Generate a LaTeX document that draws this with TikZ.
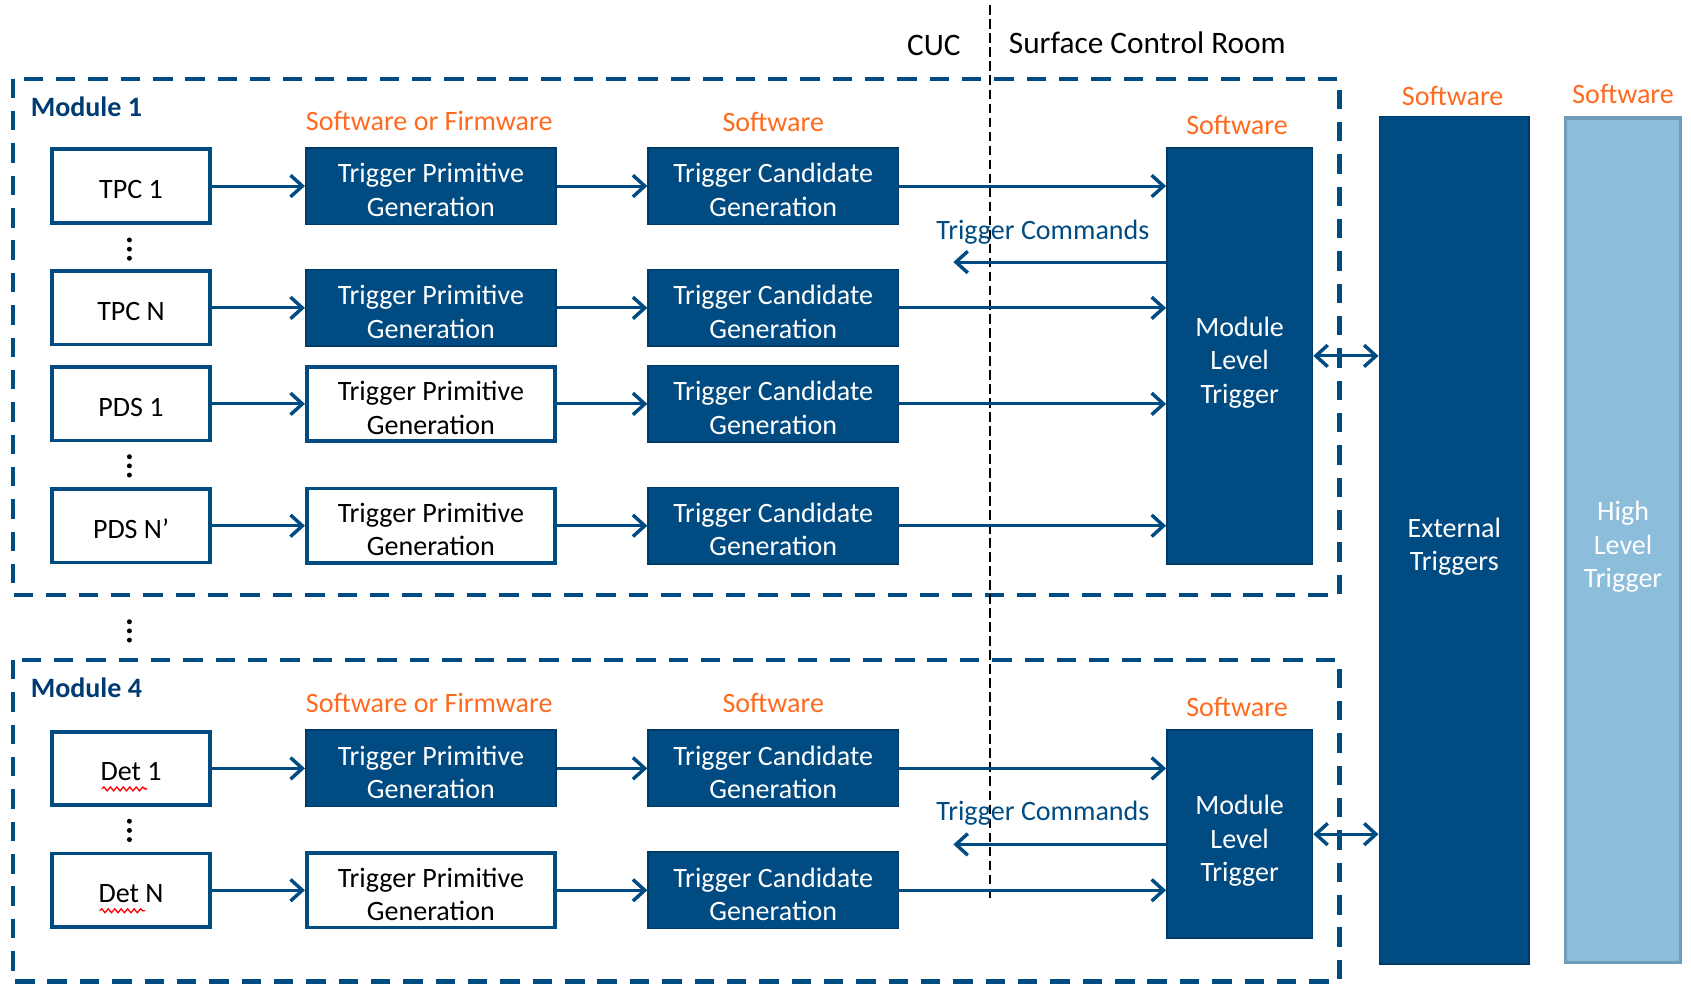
\documentclass[tikz,border=0pt]{standalone}
\usepackage{fontspec}
\setmainfont{Carlito}
\usepackage{tikz}
\usetikzlibrary{arrows.meta, decorations.pathmorphing}
\tikzset{>={Straight Barb[length=11pt, width=20pt, line width=3.2pt]}}
\definecolor{dunblue}{RGB}{0, 75, 130}
\definecolor{dunedge}{RGB}{0, 58, 104}
\definecolor{dunlabel}{RGB}{0, 60, 113}
\definecolor{swOrange}{RGB}{255, 106, 30}
\definecolor{hltblue}{RGB}{140, 189, 218}
\definecolor{hltedge}{RGB}{112, 155, 185}

\begin{document}
\begin{tikzpicture}[x=1pt, y=-1pt, font=\fontsize{26}{31}\selectfont,
  detbox/.style={draw=dunblue, line width=3.5pt, fill=white, minimum width=146pt, minimum height=68pt, text height=23pt, text depth=0pt},
  darkbox/.style={draw=dunedge, line width=1.5pt, fill=dunblue, text=white, align=center, minimum width=232pt, minimum height=71pt, text height=56pt, text depth=0pt},
  lightbox/.style={draw=dunblue, line width=3.5pt, fill=white, align=center, minimum width=230pt, minimum height=69pt, text height=56pt, text depth=0pt},
  threeline/.style={text height=88pt, text depth=0pt},
  flow/.style={->, draw=dunblue, line width=2.8pt},
  modframe/.style={draw=dunblue, line width=4pt, dash pattern=on 18pt off 12pt},
  sepline/.style={draw=black, line width=1.5pt, dash pattern=on 9pt off 4pt},
  swlabel/.style={text=swOrange},
  roomlabel/.style={font=\fontsize{29}{34}\selectfont},
  modlabel/.style={text=dunlabel, font=\fontsize{26}{31}\selectfont\bfseries, anchor=west},
  spellmark/.style={draw=red, line width=1.2pt, decorate, decoration={snake, amplitude=1.8pt, segment length=6pt}}]
\useasboundingbox (0,0) rectangle (1568,913);

% module frames
\draw[modframe] (12,73) rectangle (1242,552);
\draw[modframe] (12,612) rectangle (1242,910);
\node[modlabel] (mod1) at (25,99) {Module 1};
\node[modlabel] (mod4) at (25,638) {Module 4};

% location labels
\draw[sepline] (918,5) -- (918,833);
\node[roomlabel] (cuc) at (866,42) {CUC};
\node[roomlabel, anchor=west] (scr) at (932,40) {Surface Control Room};

% software labels
\node[swlabel] (sw1a) at (398,112) {Software or Firmware};
\node[swlabel] (sw1b) at (717,113) {Software};
\node[swlabel] (sw1c) at (1147,116) {Software};
\node[swlabel] (sw4a) at (398,652) {Software or Firmware};
\node[swlabel] (sw4b) at (717,652) {Software};
\node[swlabel] (sw4c) at (1147,656) {Software};
\node[swlabel] (swext) at (1347,89) {Software};
\node[swlabel] (swhlt) at (1505,87) {Software};

% module 1 rows
\node[detbox] (tpc1) at (121.5,172.5) {TPC 1};
\node[detbox] (tpcn) at (121.5,285.5) {TPC N};
\node[detbox] (pds1) at (121.5,374.5) {PDS 1};
\node[detbox] (pdsn) at (121.5,487.5) {PDS N’};
\node[darkbox] (tpg1) at (399.5,172.5) {Trigger Primitive\\Generation};
\node[darkbox] (tpg2) at (399.5,285.5) {Trigger Primitive\\Generation};
\node[lightbox] (tpg3) at (399.5,374.5) {Trigger Primitive\\Generation};
\node[lightbox] (tpg4) at (399.5,487.5) {Trigger Primitive\\Generation};
\node[darkbox] (tcg1) at (717,172.5) {Trigger Candidate\\Generation};
\node[darkbox] (tcg2) at (717,285.5) {Trigger Candidate\\Generation};
\node[darkbox] (tcg3) at (717,374.5) {Trigger Candidate\\Generation};
\node[darkbox] (tcg4) at (717,487.5) {Trigger Candidate\\Generation};
\node[darkbox, threeline, minimum width=135pt, minimum height=386pt] (mlt1) at (1149.5,330) {Module\\Level\\Trigger};

% module 4 rows
\node[detbox] (det1) at (121.5,712.5) {Det 1};
\node[detbox] (detn) at (121.5,825.5) {Det N};
\node[darkbox] (tpg5) at (399.5,712.5) {Trigger Primitive\\Generation};
\node[lightbox] (tpg6) at (399.5,825.5) {Trigger Primitive\\Generation};
\node[darkbox] (tcg5) at (717,712.5) {Trigger Candidate\\Generation};
\node[darkbox] (tcg6) at (717,825.5) {Trigger Candidate\\Generation};
\node[darkbox, threeline, minimum width=135pt, minimum height=193pt] (mlt4) at (1149.5,773.5) {Module\\Level\\Trigger};
\draw[spellmark] ([shift={(-27,19)}]det1.center) -- ([shift={(15,19)}]det1.center);
\draw[spellmark] ([shift={(-29,19)}]detn.center) -- ([shift={(13,19)}]detn.center);

% outer triggers
\node[darkbox, minimum width=139pt, minimum height=786pt] (ext) at (1348.5,501) {External\\Triggers};
\node[draw=hltedge, line width=3pt, fill=hltblue, text=white, align=center, threeline, minimum width=107pt, minimum height=783pt] (hlt) at (1505,501) {High\\Level\\Trigger};

% dots
\foreach \x/\y in {120/231, 120/432, 120/585, 120/770}
  {\fill (\x,\y-8.5) circle (2.3); \fill (\x,\y) circle (2.3); \fill (\x,\y+8.5) circle (2.3);}

% data flow
\draw[flow] (tpc1) -- (tpg1);
\draw[flow] (tpcn) -- (tpg2);
\draw[flow] (pds1) -- (tpg3);
\draw[flow] (pdsn) -- (tpg4);
\draw[flow] (det1) -- (tpg5);
\draw[flow] (detn) -- (tpg6);
\draw[flow] (tpg1) -- (tcg1);
\draw[flow] (tpg2) -- (tcg2);
\draw[flow] (tpg3) -- (tcg3);
\draw[flow] (tpg4) -- (tcg4);
\draw[flow] (tpg5) -- (tcg5);
\draw[flow] (tpg6) -- (tcg6);
\draw[flow] (tcg1.east) -- (tcg1.east -| mlt1.west);
\draw[flow] (tcg2.east) -- (tcg2.east -| mlt1.west);
\draw[flow] (tcg3.east) -- (tcg3.east -| mlt1.west);
\draw[flow] (tcg4.east) -- (tcg4.east -| mlt1.west);
\draw[flow] (tcg5.east) -- (tcg5.east -| mlt4.west);
\draw[flow] (tcg6.east) -- (tcg6.east -| mlt4.west);

% trigger commands
\node[text=dunblue] (cmd1) at (967,215) {Trigger Commands};
\node[text=dunblue] (cmd4) at (967,754) {Trigger Commands};
\coordinate (cmdend1) at (884,243);
\coordinate (cmdend4) at (884,783);
\draw[flow] (mlt1.west |- cmdend1) -- (cmdend1);
\draw[flow] (mlt4.west |- cmdend4) -- (cmdend4);
\draw[flow, <->] (mlt1.east) -- (mlt1.east -| ext.west);
\draw[flow, <->] (mlt4.east) -- (mlt4.east -| ext.west);
\end{tikzpicture}
\end{document}
